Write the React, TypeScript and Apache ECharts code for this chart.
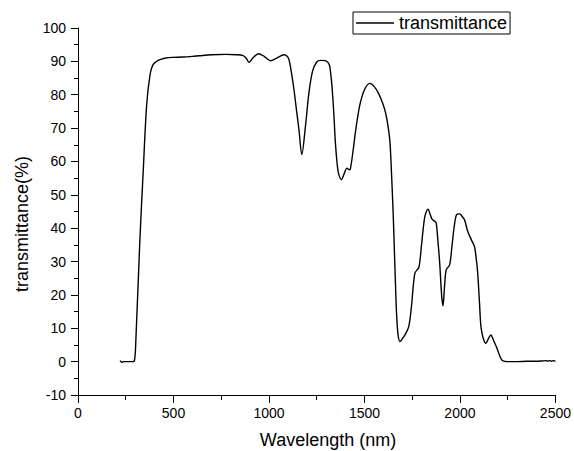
import React, { useEffect, useRef } from "react";
import * as echarts from "echarts";

const seriesName = "transmittance";
const xAxisName = "Wavelength (nm)";
const yAxisName = "transmittance(%)";

const wavelength = [
  220, 230, 240, 260, 280, 295, 303, 324, 341, 359, 376, 393, 420, 460, 497, 550, 600, 636, 700, 775,
  830, 862, 880, 896, 915, 945, 975, 1009, 1040, 1079, 1095, 1105, 1118, 1131, 1145, 1157, 1172, 1191,
  1209, 1228, 1250, 1270, 1296, 1316, 1323, 1330, 1340, 1348, 1362, 1379, 1395, 1408, 1420, 1426, 1440,
  1452, 1465, 1478, 1500, 1528, 1550, 1573, 1595, 1611, 1625, 1634, 1642, 1651, 1656, 1662, 1668, 1676,
  1686, 1700, 1712, 1732, 1746, 1764, 1785, 1798, 1816, 1833, 1845, 1854, 1870, 1876, 1885, 1894, 1904,
  1911, 1920, 1928, 1946, 1958, 1970, 1982, 1998, 2012, 2024, 2041, 2060, 2076, 2085, 2093, 2102, 2110,
  2122, 2136, 2150, 2162, 2175, 2194, 2210, 2223, 2250, 2300, 2350, 2400, 2430, 2450, 2460, 2470, 2480,
  2490, 2500,
];

const transmittance = [
  0.3, -0.2, 0, 0, 0, 0.2, 6.5, 36.5, 56.5, 76.5, 85.5, 89, 90.3, 91, 91.2, 91.3, 91.5, 91.7, 92, 92.1,
  92, 91.8, 91, 89.7, 91, 92.3, 91.5, 90.2, 91, 92, 91.5, 90.5, 86.5, 81.5, 75, 69.5, 62, 70.5,
  80.5, 87, 89.8, 90.3, 90.2, 89, 86.5, 82.5, 74, 65.5, 57, 54.5, 56.5, 58, 57.5, 57.7, 63,
  68.5, 73.5, 77.5, 81.5, 83.4, 82.5, 80.5, 77.5, 74.5, 70, 65.5, 56, 43.5, 34.5, 24, 14.5, 8,
  6, 7, 8, 10.5, 16.5, 26.5, 28.3, 34.5, 43.5, 45.7, 44, 42.7, 42, 41.5, 36, 29.5, 20,
  16.7, 23, 27.5, 29, 34.5, 40.5, 44, 44.3, 43.5, 42.5, 39, 36.5, 34.5, 31, 26.5, 18, 10.5,
  7, 5.5, 7, 8, 6.5, 4, 1.5, 0.3, 0, 0, 0.1, 0.1, 0.2, 0.3, 0.1, 0.3, 0.1,
  0.3, 0.1,
];

const xTicks = { min: 0, max: 2500, interval: 500 };
const yTicks = { min: -10, max: 100, interval: 10 };

const FONT = "'Liberation Sans', Arial, sans-serif";

export default function App() {
  const ref = useRef<HTMLDivElement>(null);

  useEffect(() => {
    if (!ref.current) return;
    const chart = echarts.init(ref.current, undefined, { renderer: "svg" });
    const data = wavelength.map((w, i) => [w, transmittance[i]]);
    chart.setOption({
      animation: false,
      backgroundColor: "#fff",
      grid: { left: 78, right: 16, top: 28, bottom: 56, containLabel: false },
      legend: {
        data: [seriesName],
        left: 353,
        top: 12,
        orient: "horizontal",
        borderColor: "#000",
        borderWidth: 1,
        borderRadius: 0,
        padding: [2, 3, 2, 3],
        icon: "rect",
        itemWidth: 38,
        itemHeight: 1.5,
        textStyle: { fontSize: 18, fontFamily: FONT, color: "#000", lineHeight: 18 },
      },
      xAxis: {
        type: "value",
        min: xTicks.min,
        max: xTicks.max,
        interval: xTicks.interval,
        axisLine: { onZero: false, lineStyle: { color: "#000", width: 1 } },
        axisTick: { show: true, inside: false, length: 8, lineStyle: { color: "#000" } },
        minorTick: { show: true, splitNumber: 2, length: 5, lineStyle: { color: "#000" } },
        splitLine: { show: false },
        axisLabel: {
          fontSize: 14,
          fontFamily: FONT,
          color: "#000",
          margin: 11,
          formatter: (v: number) => String(v),
        },
      },
      yAxis: {
        type: "value",
        min: yTicks.min,
        max: yTicks.max,
        interval: yTicks.interval,
        axisLine: { show: true, onZero: false, lineStyle: { color: "#000", width: 1 } },
        axisTick: { show: true, inside: false, length: 7, lineStyle: { color: "#000" } },
        minorTick: { show: true, splitNumber: 2, length: 4, lineStyle: { color: "#000" } },
        splitLine: { show: false },
        axisLabel: {
          fontSize: 14,
          fontFamily: FONT,
          color: "#000",
          margin: 12,
          formatter: (v: number) => String(v),
        },
      },
      graphic: [
        {
          type: "text",
          x: 328,
          y: 440,
          style: {
            text: xAxisName,
            fontSize: 18,
            fontFamily: FONT,
            fill: "#000",
            align: "center",
            verticalAlign: "middle",
          },
        },
        {
          type: "text",
          x: 22,
          y: 224,
          rotation: Math.PI / 2,
          style: {
            text: yAxisName,
            fontSize: 18,
            fontFamily: FONT,
            fill: "#000",
            align: "center",
            verticalAlign: "middle",
          },
        },
      ],
      series: [
        {
          name: seriesName,
          type: "line",
          data,
          symbol: "none",
          smooth: 0.3,
          color: "#000",
          lineStyle: { color: "#000", width: 1.4 },
        },
      ],
    });
    return () => chart.dispose();
  }, []);

  return (
    <div
      ref={ref}
      style={{ position: "fixed", left: 0, top: 0, width: 574, height: 451, background: "#fff" }}
    />
  );
}
